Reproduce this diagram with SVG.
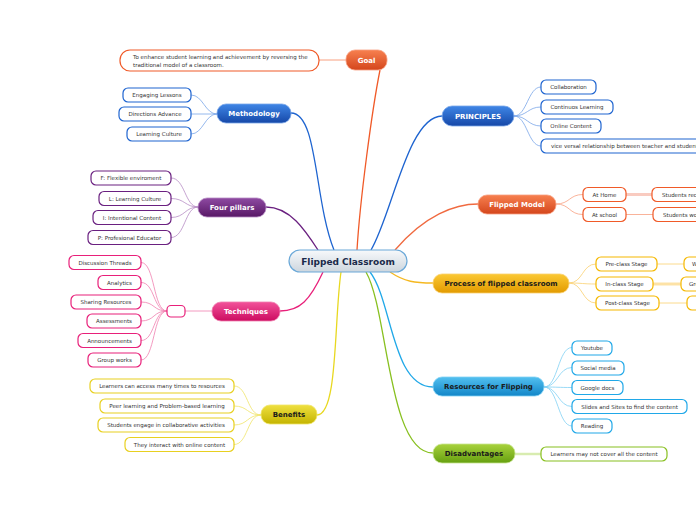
<svg xmlns="http://www.w3.org/2000/svg" width="696" height="520" viewBox="0 0 696 520">
<defs>
<linearGradient id="gC" x1="0" y1="0" x2="0" y2="1"><stop offset="0" stop-color="#f7f9fb"/><stop offset="1" stop-color="#cdd6de"/></linearGradient>
<linearGradient id="gO" x1="0" y1="0" x2="0" y2="1"><stop offset="0" stop-color="#f7804f"/><stop offset="1" stop-color="#d4461c"/></linearGradient>
<linearGradient id="gB" x1="0" y1="0" x2="0" y2="1"><stop offset="0" stop-color="#3f86e6"/><stop offset="1" stop-color="#1648a8"/></linearGradient>
<linearGradient id="gP" x1="0" y1="0" x2="0" y2="1"><stop offset="0" stop-color="#8e4aa2"/><stop offset="1" stop-color="#581866"/></linearGradient>
<linearGradient id="gK" x1="0" y1="0" x2="0" y2="1"><stop offset="0" stop-color="#f2529a"/><stop offset="1" stop-color="#cc0c60"/></linearGradient>
<linearGradient id="gY" x1="0" y1="0" x2="0" y2="1"><stop offset="0" stop-color="#fbc934"/><stop offset="1" stop-color="#e29a00"/></linearGradient>
<linearGradient id="gS" x1="0" y1="0" x2="0" y2="1"><stop offset="0" stop-color="#52c0f0"/><stop offset="1" stop-color="#1286c8"/></linearGradient>
<linearGradient id="gL" x1="0" y1="0" x2="0" y2="1"><stop offset="0" stop-color="#efe040"/><stop offset="1" stop-color="#c4b400"/></linearGradient>
<linearGradient id="gG" x1="0" y1="0" x2="0" y2="1"><stop offset="0" stop-color="#a8d23c"/><stop offset="1" stop-color="#66a010"/></linearGradient>
</defs>
<style>
text{font-family:"DejaVu Sans","Verdana",sans-serif;}
.t{font-size:5.5px;fill:#333;text-anchor:middle;}
.ts{font-size:5.5px;fill:#333;}
.h{font-size:7px;font-weight:bold;text-anchor:middle;fill:#fff;}
.hd{font-size:7px;font-weight:bold;text-anchor:middle;fill:#1a1a1a;}
.c{fill:#fff;stroke-width:1.2;}
.m{stroke-width:0.8;}
.con{fill:none;}
.main{stroke-width:1.3;fill:none;}
</style>

<g id="connectors">
<path class="main" stroke="#1e64d0" d="M291,113 C318,113 314,200 334,250"/>
<path class="main" stroke="#f05a28" d="M380,70 C372,110 360,200 357,250"/>
<path class="main" stroke="#1e64d0" d="M442,116 C408,116 392,215 371,250"/>
<path class="main" stroke="#f06a40" d="M478,204 C455,204 425,215 395,250"/>
<path class="main" stroke="#f5b820" d="M390,272 C405,282 415,283 433,283"/>
<path class="main" stroke="#20a8e8" d="M370,272 C392,300 392,387 433,387"/>
<path class="main" stroke="#88c020" d="M366,272 C388,310 388,453 433,453"/>
<path class="main" stroke="#e8d820" d="M341,272 C334,320 338,415 317,415"/>
<path class="main" stroke="#e8207a" d="M323,272 C310,300 300,311 280,311"/>
<path class="main" stroke="#6a2080" d="M266,207 C290,207 305,230 318,250"/>

<g class="con" stroke="#f8a080" stroke-width="1">
<path d="M319,60 L346,60"/>
</g>
<g class="con" stroke="#7aa6e8" stroke-width="0.8">
<path d="M191,95 C203,95 205,114 217,114"/>
<path d="M191,114 L217,114"/>
<path d="M191,134 C203,134 205,114 217,114"/>
<path d="M514,116 C527,116 528,87 541,87"/>
<path d="M514,116 C527,116 528,107 541,107"/>
<path d="M514,116 C527,116 528,126 541,126"/>
<path d="M514,116 C527,116 528,146 541,146"/>
</g>
<g class="con" stroke="#b68cc4" stroke-width="0.8">
<path d="M171,178 C185,178 185,207 198,207"/>
<path d="M171,198.5 C185,198.5 185,207 198,207"/>
<path d="M171,217.5 C185,217.5 185,207 198,207"/>
<path d="M171,237.5 C185,237.5 185,207 198,207"/>
</g>
<g class="con" stroke="#f080b0" stroke-width="0.8">
<path d="M185,311 L212,311"/>
<path d="M141,262.5 C155,262.5 153,311 167,311"/>
<path d="M141,282.5 C155,282.5 153,311 167,311"/>
<path d="M141,302 C155,302 153,311 167,311"/>
<path d="M141,321 C155,321 153,311 167,311"/>
<path d="M141,340.5 C155,340.5 153,311 167,311"/>
<path d="M141,360 C155,360 153,311 167,311"/>
</g>
<g class="con" stroke="#f8a080" stroke-width="0.8">
<path d="M556,204 C570,204 569,194.5 583,194.5"/>
<path d="M556,204 C570,204 569,214.5 583,214.5"/>
<path d="M626,214.5 L653,214.5"/>
</g>
<path class="con" stroke="#f9cbc0" stroke-width="3" d="M626,194.5 L652,194.5"/>
<g class="con" stroke="#fad070" stroke-width="0.8">
<path d="M569,283 C583,283 582,264 596,264"/>
<path d="M569,283 C583,283 582,284 596,284"/>
<path d="M569,283 C583,283 582,303 596,303"/>
<path d="M657,264 L684,264"/>
<path d="M659,303 L687,303"/>
</g>
<path class="con" stroke="#fde2a6" stroke-width="3" d="M653,284 L681,284"/>
<g class="con" stroke="#80d0f4" stroke-width="0.8">
<path d="M544,387 C558,387 558,347.5 572,347.5"/>
<path d="M544,387 C558,387 558,367.5 572,367.5"/>
<path d="M544,387 C558,387 558,387.5 572,387.5"/>
<path d="M544,387 C558,387 558,406.5 572,406.5"/>
<path d="M544,387 C558,387 558,426 572,426"/>
</g>
<g class="con" stroke="#f0e468" stroke-width="0.8">
<path d="M234,386 C248,386 247,415 261,415"/>
<path d="M234,406 C248,406 247,415 261,415"/>
<path d="M234,425 C248,425 247,415 261,415"/>
<path d="M234,444.5 C248,444.5 247,415 261,415"/>
</g>
<path class="con" stroke="#d8ecb0" stroke-width="2.5" d="M515,454 L541,454"/>
</g>

<g id="central">
<rect x="289" y="250" width="118" height="22" rx="11" fill="url(#gC)" stroke="#6aa8d8" stroke-width="1.2"/>
<text x="348" y="264.5" style="font-size:9px;font-weight:bold;fill:#1a2a4a;text-anchor:middle">Flipped Classroom</text>
</g>

<g id="goal">
<rect x="346" y="50" width="41" height="20" rx="9" fill="url(#gO)" stroke="#f8a080" stroke-width="0.8"/>
<text class="h" x="366.5" y="62.5">Goal</text>
</g>
<g id="goal-1">
<rect class="c" x="120" y="50" width="199" height="21" rx="10" stroke="#f05a28"/>
<text class="ts" x="133" y="59">To enhance student learning and achievement by reversing the</text>
<text class="ts" x="133" y="66.5">traditional model of a classroom.</text>
</g>

<g id="methodology">
<rect x="217" y="104" width="74" height="19" rx="9" fill="url(#gB)" stroke="#7aa6e8" stroke-width="0.8"/>
<text class="h" x="254" y="116">Methodology</text>
</g>
<g id="meth-1"><rect class="c" x="123" y="88" width="68" height="14" rx="5" stroke="#1e64d0"/><text class="t" x="157" y="97">Engaging Lessons</text></g>
<g id="meth-2"><rect class="c" x="119" y="107" width="72" height="14" rx="5" stroke="#1e64d0"/><text class="t" x="155" y="116">Directions Advance</text></g>
<g id="meth-3"><rect class="c" x="127" y="127" width="64" height="14" rx="5" stroke="#1e64d0"/><text class="t" x="159" y="136">Learning Culture</text></g>

<g id="principles">
<rect x="442" y="106" width="72" height="20" rx="10" fill="url(#gB)" stroke="#7aa6e8" stroke-width="0.8"/>
<text class="h" x="478" y="118.5">PRINCIPLES</text>
</g>
<g id="pr-1"><rect class="c" x="541" y="80" width="55" height="14" rx="5" stroke="#1e64d0"/><text class="t" x="568.5" y="89">Collaboration</text></g>
<g id="pr-2"><rect class="c" x="541" y="100" width="72" height="14" rx="5" stroke="#1e64d0"/><text class="t" x="577" y="109">Continuos Learning</text></g>
<g id="pr-3"><rect class="c" x="541" y="119" width="60" height="14" rx="5" stroke="#1e64d0"/><text class="t" x="571" y="128">Online Content</text></g>
<g id="pr-4"><rect class="c" x="541" y="139" width="170" height="14" rx="5" stroke="#1e64d0"/><text class="ts" x="551" y="148">vice versal relationship between teacher and students</text></g>

<g id="four-pillars">
<rect x="198" y="198" width="68" height="19" rx="9" fill="url(#gP)" stroke="#b68cc4" stroke-width="0.8"/>
<text class="h" x="232" y="210">Four pillars</text>
</g>
<g id="fp-1"><rect class="c" x="91" y="171" width="80" height="14" rx="5" stroke="#6a2080"/><text class="t" x="131" y="180">F: Flexible enviroment</text></g>
<g id="fp-2"><rect class="c" x="99" y="191.5" width="72" height="14" rx="5" stroke="#6a2080"/><text class="t" x="135" y="200.5">L: Learning Culture</text></g>
<g id="fp-3"><rect class="c" x="93" y="210.5" width="78" height="14" rx="5" stroke="#6a2080"/><text class="t" x="132" y="219.5">I: Intentional Content</text></g>
<g id="fp-4"><rect class="c" x="88" y="230.5" width="83" height="14" rx="5" stroke="#6a2080"/><text class="t" x="129.5" y="239.5">P: Profesional Educator</text></g>

<g id="techniques">
<rect x="212" y="302" width="68" height="19" rx="9" fill="url(#gK)" stroke="#f080b0" stroke-width="0.8"/>
<text class="h" x="246" y="314">Techniques</text>
</g>
<g id="tech-hub"><rect class="c" x="167" y="305.5" width="18" height="11.5" rx="4" stroke="#e8207a"/></g>
<g id="tech-1"><rect class="c" x="69" y="255.5" width="72" height="14" rx="5" stroke="#e8207a"/><text class="t" x="105" y="264.5">Discussion Threads</text></g>
<g id="tech-2"><rect class="c" x="98" y="275.5" width="43" height="14" rx="5" stroke="#e8207a"/><text class="t" x="119.5" y="284.5">Analytics</text></g>
<g id="tech-3"><rect class="c" x="71" y="295" width="70" height="14" rx="5" stroke="#e8207a"/><text class="t" x="106" y="304">Sharing Resources</text></g>
<g id="tech-4"><rect class="c" x="87" y="314" width="54" height="14" rx="5" stroke="#e8207a"/><text class="t" x="114" y="323">Assessments</text></g>
<g id="tech-5"><rect class="c" x="78" y="333.5" width="63" height="14" rx="5" stroke="#e8207a"/><text class="t" x="109.5" y="342.5">Announcements</text></g>
<g id="tech-6"><rect class="c" x="88" y="353" width="53" height="14" rx="5" stroke="#e8207a"/><text class="t" x="114.5" y="362">Group works</text></g>

<g id="flipped-model">
<rect x="478" y="195" width="78" height="19" rx="9" fill="url(#gO)" stroke="#f8a080" stroke-width="0.8"/>
<text class="h" x="517" y="207">Flipped Model</text>
</g>
<g id="fm-1"><rect class="c" x="583" y="187.5" width="43" height="14" rx="5" stroke="#f05a28"/><text class="t" x="604.5" y="196.5">At Home</text></g>
<g id="fm-2"><rect class="c" x="583" y="207.5" width="43" height="14" rx="5" stroke="#f05a28"/><text class="t" x="604.5" y="216.5">At school</text></g>
<g id="fm-1a"><rect class="c" x="652" y="187.5" width="90" height="14" rx="5" stroke="#f05a28"/><text class="ts" x="662" y="196.5">Students receive</text></g>
<g id="fm-2a"><rect class="c" x="653" y="207.5" width="90" height="14" rx="5" stroke="#f05a28"/><text class="ts" x="663" y="216.5">Students work</text></g>

<g id="process">
<rect x="433" y="274" width="136" height="19" rx="9" fill="url(#gY)" stroke="#fad070" stroke-width="0.8"/>
<text class="hd" x="501" y="286">Process of flipped classroom</text>
</g>
<g id="pc-1"><rect class="c" x="596" y="257" width="61" height="14" rx="5" stroke="#f5b800"/><text class="t" x="626.5" y="266">Pre-class Stage</text></g>
<g id="pc-2"><rect class="c" x="596" y="277" width="57" height="14" rx="5" stroke="#f5b800"/><text class="t" x="624.5" y="286">In-class Stage</text></g>
<g id="pc-3"><rect class="c" x="596" y="296" width="63" height="14" rx="5" stroke="#f5b800"/><text class="t" x="627.5" y="305">Post-class Stage</text></g>
<g id="pc-1a"><rect class="c" x="684" y="257" width="80" height="14" rx="5" stroke="#f5b800"/><text class="ts" x="692" y="266">Watch</text></g>
<g id="pc-2a"><rect class="c" x="681" y="277" width="80" height="14" rx="5" stroke="#f5b800"/><text class="ts" x="689" y="286">Group</text></g>
<g id="pc-3a"><rect class="c" x="687" y="296" width="80" height="14" rx="5" stroke="#f5b800"/></g>

<g id="resources">
<rect x="433" y="377" width="111" height="19" rx="9" fill="url(#gS)" stroke="#80d0f4" stroke-width="0.8"/>
<text class="hd" x="488.5" y="389">Resources for Flipping</text>
</g>
<g id="rs-1"><rect class="c" x="572" y="341" width="40" height="14" rx="5" stroke="#20a8e8"/><text class="t" x="592" y="350">Youtube</text></g>
<g id="rs-2"><rect class="c" x="572" y="361" width="52" height="14" rx="5" stroke="#20a8e8"/><text class="t" x="598" y="370">Social media</text></g>
<g id="rs-3"><rect class="c" x="572" y="380.5" width="51" height="14" rx="5" stroke="#20a8e8"/><text class="t" x="597.5" y="389.5">Google docs</text></g>
<g id="rs-4"><rect class="c" x="572" y="399.5" width="115" height="14" rx="5" stroke="#20a8e8"/><text class="t" x="629.5" y="408.5">Slides and Sites to find the content</text></g>
<g id="rs-5"><rect class="c" x="572" y="419" width="40" height="14" rx="5" stroke="#20a8e8"/><text class="t" x="592" y="428">Reading</text></g>

<g id="benefits">
<rect x="261" y="405" width="56" height="19" rx="9" fill="url(#gL)" stroke="#f0e468" stroke-width="0.8"/>
<text class="hd" x="289" y="417">Benefits</text>
</g>
<g id="bn-1"><rect class="c" x="90" y="379" width="144" height="14" rx="5" stroke="#e8d020"/><text class="t" x="162" y="388">Learners can access many times to resources</text></g>
<g id="bn-2"><rect class="c" x="100" y="399" width="134" height="14" rx="5" stroke="#e8d020"/><text class="t" x="167" y="408">Peer learning and Problem-based learning</text></g>
<g id="bn-3"><rect class="c" x="98" y="418" width="136" height="14" rx="5" stroke="#e8d020"/><text class="t" x="166" y="427">Students engage in collaborative activities</text></g>
<g id="bn-4"><rect class="c" x="125" y="437.5" width="109" height="14" rx="5" stroke="#e8d020"/><text class="t" x="179.5" y="446.5">They interact with online content</text></g>

<g id="disadvantages">
<rect x="433" y="444" width="82" height="19" rx="9" fill="url(#gG)" stroke="#c8e490" stroke-width="0.8"/>
<text class="hd" x="474" y="456">Disadvantages</text>
</g>
<g id="ds-1"><rect class="c" x="541" y="447" width="126" height="14" rx="5" stroke="#88c020"/><text class="t" x="604" y="456">Learners may not cover all the content</text></g>
</svg>
